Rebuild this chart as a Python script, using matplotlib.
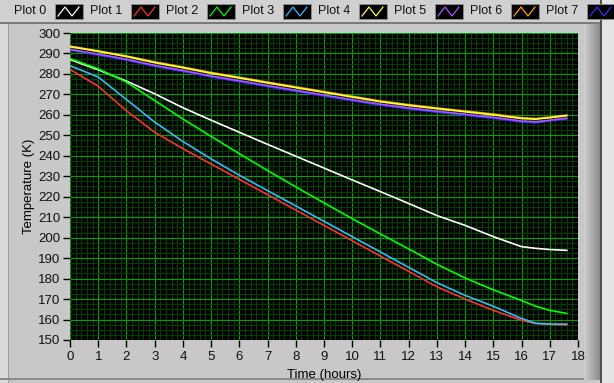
import matplotlib
matplotlib.use("Agg")
import matplotlib.pyplot as plt
from matplotlib.patches import Rectangle
from matplotlib.ticker import MultipleLocator
import numpy as np

# time axis (hours)
time_h = [0, 1, 2, 3, 4, 5, 6, 7, 8, 9, 10, 11, 12, 13, 14, 15, 16, 16.5, 17, 17.6]

# temperatures (K)
plot0 = [287.0, 282.0, 276.5, 270.3, 263.5, 257.4, 251.5, 245.6, 239.8, 234.0,
         228.2, 222.5, 216.7, 210.8, 206.0, 200.5, 195.6, 194.8, 194.2, 193.8]
plot1 = [282.2, 274.0, 262.0, 251.5, 243.5, 236.0, 228.5, 221.0, 213.5, 206.0,
         198.5, 191.0, 183.5, 176.0, 170.0, 164.5, 159.6, 158.0, 157.6, 157.3]
plot2 = [287.5, 282.5, 276.0, 267.0, 258.0, 249.5, 241.0, 232.8, 224.8, 217.0,
         209.3, 201.8, 194.5, 187.0, 180.3, 174.5, 169.3, 166.5, 164.5, 163.0]
plot3 = [284.0, 278.5, 267.5, 256.5, 247.0, 238.5, 230.5, 223.0, 215.5, 208.0,
         200.5, 193.0, 185.5, 178.0, 171.8, 166.5, 160.5, 158.2, 157.8, 157.8]
plot4 = [293.3, 291.0, 288.5, 285.5, 283.0, 280.3, 278.0, 275.6, 273.3, 271.0,
         268.7, 266.4, 264.6, 263.0, 261.5, 260.0, 258.2, 257.9, 258.6, 259.6]
plot5 = [292.0, 289.7, 287.2, 284.2, 281.7, 279.0, 276.7, 274.3, 272.0, 269.7,
         267.4, 265.2, 263.4, 261.8, 260.3, 258.8, 257.0, 256.6, 257.4, 258.4]
plot6 = [293.6, 291.3, 288.8, 285.9, 283.4, 280.7, 278.4, 276.0, 273.7, 271.4,
         269.1, 266.8, 265.0, 263.4, 261.9, 260.4, 258.6, 258.2, 258.9, 259.9]
plot7 = [291.6, 289.2, 286.7, 283.7, 281.2, 278.5, 276.2, 273.8, 271.5, 269.2,
         266.9, 264.7, 262.9, 261.3, 259.8, 258.3, 256.5, 256.1, 257.0, 258.0]

names = ["Plot 0", "Plot 1", "Plot 2", "Plot 3", "Plot 4", "Plot 5", "Plot 6", "Plot 7"]
colours = ["#ffffff", "#ff3030", "#00ff00", "#38b8ff", "#ffff40", "#b050ff", "#ffa000", "#3030ff"]
series = [plot0, plot1, plot2, plot3, plot4, plot5, plot6, plot7]
draw_order = [0, 2, 1, 3, 7, 5, 6, 4]

plt.rcParams['font.family'] = ['Liberation Sans', 'DejaVu Sans']

fig = plt.figure(figsize=(6.14, 3.83), dpi=100)
fig.patch.set_facecolor("#c8c8c8")

W, H = 614.0, 383.0
def frect(x0, y0, w, h, z=-5, **kw):
    # rectangle in pixel coords (top-left origin)
    fig.patches.append(Rectangle((x0 / W, 1 - (y0 + h) / H), w / W, h / H,
                                 transform=fig.transFigure, zorder=z, **kw))

# frame decorations (behind the axes)
frect(0, 0, 614, 22, facecolor="#d0d0d0", edgecolor="none")
frect(0, 22, 614, 2, facecolor="#7a7a7a", edgecolor="none")
frect(0, 24, 8, 359, facecolor="#dadada", edgecolor="none")
frect(8, 24, 1, 359, facecolor="#9a9a9a", edgecolor="none")
frect(0, 378, 600, 2, facecolor="#8a8a8a", edgecolor="none")
for i, g in enumerate(np.linspace(0.80, 0.55, 16)):
    frect(584 + i, 24, 1, 356, facecolor=(g, g, g), edgecolor="none")
frect(600, 0, 2, 383, facecolor="#505050", edgecolor="none")
frect(602, 0, 12, 383, facecolor="#e4e4e4", edgecolor="none")

# legend strip
for k in range(8):
    xt = 14 + 76 * k
    fig.text(xt / W, 1 - 11 / H, names[k], fontsize=9, va="center", ha="left", color="#101010")
    xs = 55 + 76 * k
    frect(xs, 4, 28, 15, z=2, facecolor="black", edgecolor="#909090", linewidth=0.6)
    zx = np.array([3, 10, 17, 24]) + xs
    zy = np.array([16, 7, 16, 7])
    fig.add_artist(plt.Line2D(zx / W, 1 - zy / H, color=colours[k], linewidth=0.9,
                              transform=fig.transFigure, zorder=3))

ax = fig.add_axes([70 / W, 1 - 340 / H, 508 / W, 307 / H])
ax.set_facecolor("black")
for i in draw_order:
    ax.plot(time_h, series[i], color=colours[i], linewidth=1.2)

ax.set_xlim(0, 18)
ax.set_ylim(150, 300)
ax.xaxis.set_major_locator(MultipleLocator(1))
ax.xaxis.set_minor_locator(MultipleLocator(0.2))
ax.yaxis.set_major_locator(MultipleLocator(10))
ax.yaxis.set_minor_locator(MultipleLocator(2.5))
ax.grid(which="minor", color="#004400", linewidth=0.7)
ax.grid(which="major", color="#00a000", linewidth=0.8)
ax.set_axisbelow(True)
ax.tick_params(which="minor", length=0)
ax.tick_params(which="major", length=5, width=1, color="black", labelsize=9.5,
               labelcolor="#101010", pad=2)
ax.tick_params(axis="x", pad=3)
for s in ax.spines.values():
    s.set_visible(False)
ax.set_xlabel("Time (hours)", fontsize=9.5, labelpad=4)
ax.set_ylabel("Temperature (K)", fontsize=9.5)
ax.yaxis.set_label_coords(-0.068, 0.5)

fig.savefig("out.png", dpi=100, facecolor=fig.get_facecolor())
